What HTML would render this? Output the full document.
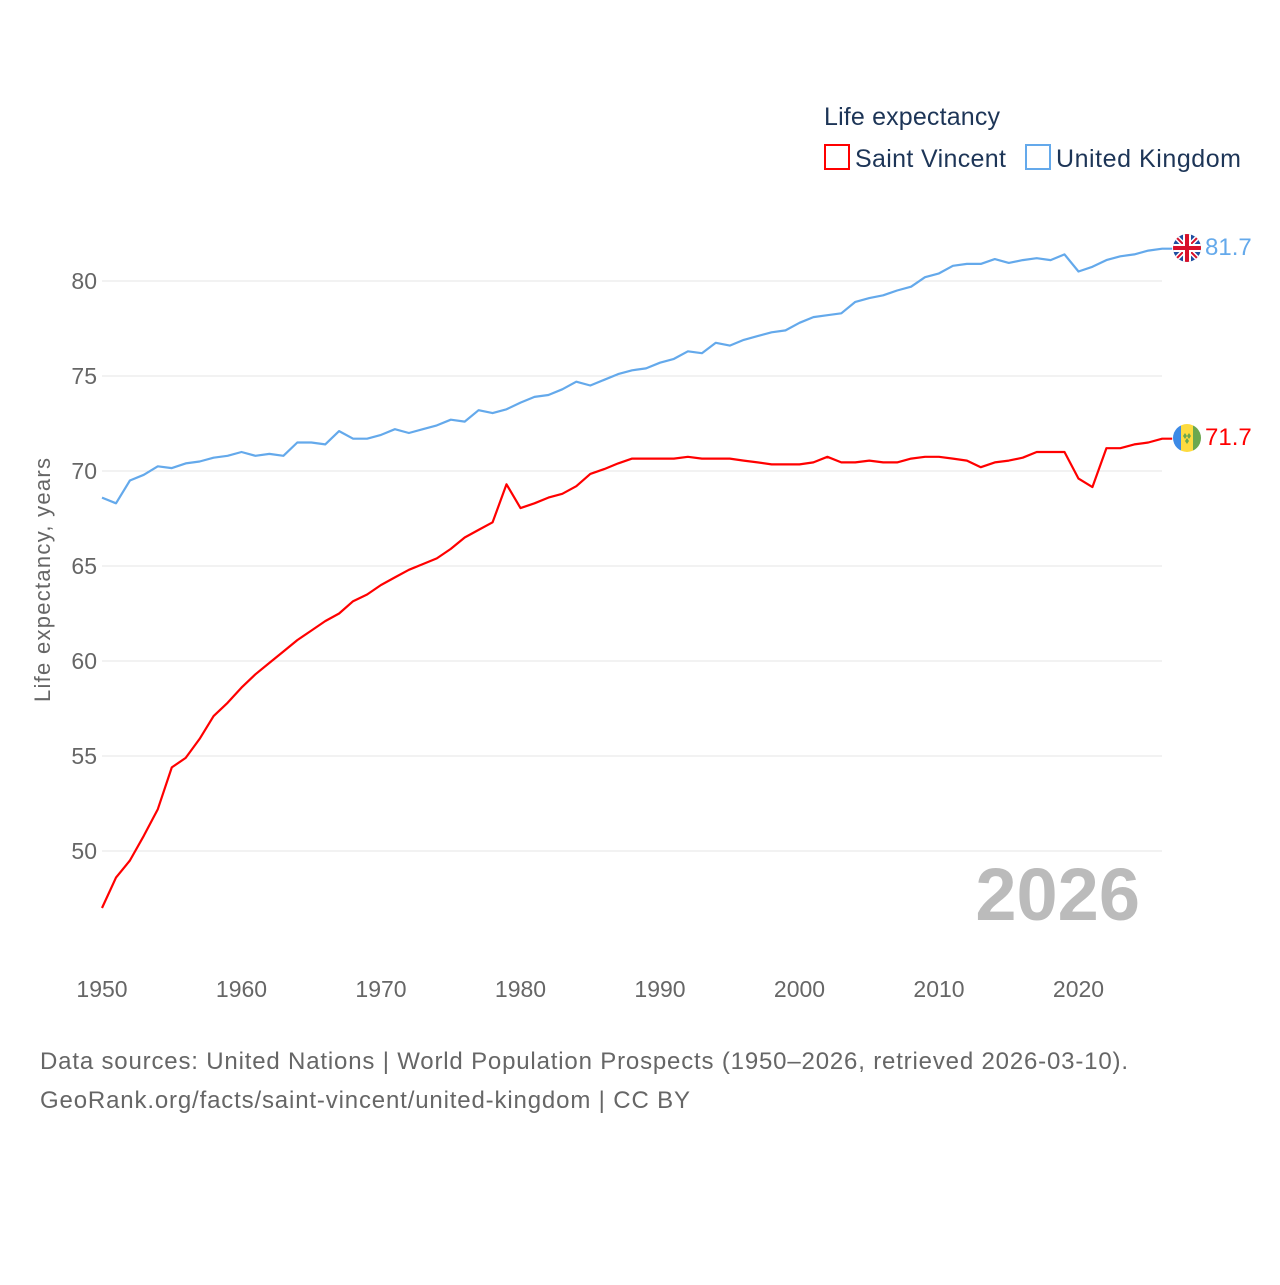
<!DOCTYPE html>
<html><head><meta charset="utf-8"><style>
body{margin:0;background:#fff;width:1280px;height:1280px;overflow:hidden;font-family:"Liberation Sans",sans-serif}
</style></head><body>
<svg id="chart" width="1280" height="1280" viewBox="0 0 1280 1280" font-family="Liberation Sans, sans-serif">
<text x="824" y="125" font-size="25" fill="#1d3557" textLength="176">Life expectancy</text>
<rect x="825" y="145" width="24" height="24" fill="none" stroke="#f00" stroke-width="2"/>
<text x="855" y="167" font-size="25" fill="#1d3557" textLength="151">Saint Vincent</text>
<rect x="1026" y="145" width="24" height="24" fill="none" stroke="#64a9eb" stroke-width="2"/>
<text x="1056" y="167" font-size="25" fill="#1d3557" textLength="185">United Kingdom</text>
<g id="grid"></g>
<g id="xt"></g>
<text transform="translate(50,580) rotate(-90)" text-anchor="middle" font-size="22" fill="#666" textLength="244">Life expectancy, years</text>
<text x="1140" y="920" text-anchor="end" font-size="74" font-weight="bold" fill="#bbb">2026</text>
<g id="lines"></g>
<g>
<clipPath id="cuk"><circle cx="1187" cy="248" r="14"/></clipPath>
<g clip-path="url(#cuk)"><rect x="1173" y="234" width="28" height="28" fill="#1f4ea1"/>
<path d="M1173 234L1201 262M1201 234L1173 262" stroke="#fff" stroke-width="5"/>
<path d="M1173 234L1201 262M1201 234L1173 262" stroke="#d8102a" stroke-width="2"/>
<path d="M1187 234V262M1173 248H1201" stroke="#fff" stroke-width="8"/>
<path d="M1187 234V262M1173 248H1201" stroke="#d8102a" stroke-width="4"/></g></g>
<g>
<clipPath id="csv"><circle cx="1187" cy="438" r="14"/></clipPath>
<g clip-path="url(#csv)"><rect x="1173" y="424" width="8" height="28" fill="#3d8ae6"/><rect x="1181" y="424" width="12" height="28" fill="#fddb3f"/><rect x="1193" y="424" width="8" height="28" fill="#6aa84f"/>
<path d="M1183 436l2-3 2 3-2 3zM1187 436l2-3 2 3-2 3zM1185 441l2-3 2 3-2 3z" fill="#6aa84f"/></g></g>
<text x="1205" y="255" font-size="24" fill="#64a9eb">81.7</text>
<text x="1205" y="445" font-size="24" fill="#f00">71.7</text>
<text x="40" y="1069" font-size="24" fill="#666" textLength="1088">Data sources: United Nations | World Population Prospects (1950–2026, retrieved 2026-03-10).</text>
<text x="40" y="1108" font-size="24" fill="#666" textLength="650">GeoRank.org/facts/saint-vincent/united-kingdom | CC BY</text>
</svg>
<script>
const years=[];for(let y=1950;y<=2026;y++)years.push(y);
const ukValues=[68.6,68.3,69.5,69.8,70.25,70.15,70.4,70.5,70.7,70.8,71.0,70.8,70.9,70.8,71.5,71.5,71.4,72.1,71.7,71.7,71.9,72.2,72.0,72.2,72.4,72.7,72.6,73.2,73.05,73.25,73.6,73.9,74.0,74.3,74.7,74.5,74.8,75.1,75.3,75.4,75.7,75.9,76.3,76.2,76.75,76.6,76.9,77.1,77.3,77.4,77.8,78.1,78.2,78.3,78.9,79.1,79.25,79.5,79.7,80.2,80.4,80.8,80.9,80.9,81.15,80.95,81.1,81.2,81.1,81.4,80.5,80.75,81.1,81.3,81.4,81.6,81.7];
const svValues=[47.0,48.6,49.5,50.8,52.2,54.4,54.9,55.9,57.1,57.8,58.6,59.3,59.9,60.5,61.1,61.6,62.1,62.5,63.15,63.5,64.0,64.4,64.8,65.1,65.4,65.9,66.5,66.9,67.3,69.3,68.05,68.3,68.6,68.8,69.2,69.85,70.1,70.4,70.65,70.65,70.65,70.65,70.75,70.65,70.65,70.65,70.55,70.45,70.35,70.35,70.35,70.45,70.75,70.45,70.45,70.55,70.45,70.45,70.65,70.75,70.75,70.65,70.55,70.2,70.45,70.55,70.7,71.0,71.0,71.0,69.6,69.15,71.2,71.2,71.4,71.5,71.7];
const yTicks=[50,55,60,65,70,75,80];
const xTicks=[1950,1960,1970,1980,1990,2000,2010,2020];
const NS='http://www.w3.org/2000/svg';
const xs=y=>102+(y-1950)*13.95;
const ys=v=>281+(80-v)*19;
const g=document.getElementById('grid'),xt=document.getElementById('xt'),L=document.getElementById('lines');
yTicks.forEach(t=>{
 const l=document.createElementNS(NS,'line');
 
 
 l.setAttribute('x1',102);l.setAttribute('x2',1162);l.setAttribute('y1',ys(t));l.setAttribute('y2',ys(t));l.setAttribute('stroke','#e6e6e6');g.appendChild(l);
 const tx=document.createElementNS(NS,'text');
 
 
 tx.setAttribute('x',97);tx.setAttribute('y',ys(t)+8);tx.setAttribute('text-anchor','end');tx.setAttribute('font-size','23');tx.setAttribute('fill','#666');tx.textContent=t;g.appendChild(tx);
});
xTicks.forEach(t=>{
 const tx=document.createElementNS(NS,'text');
 
 
 tx.setAttribute('x',xs(t));tx.setAttribute('y',997);tx.setAttribute('text-anchor','middle');tx.setAttribute('font-size','23');tx.setAttribute('fill','#666');tx.textContent=t;xt.appendChild(tx);
});
function line(vals,color,name){
 const p=document.createElementNS(NS,'polyline');
 
 
 p.setAttribute('points',vals.map((v,i)=>xs(years[i]).toFixed(1)+','+ys(v).toFixed(1)).join(' ')+' '+(xs(2026)+10)+','+ys(vals[vals.length-1]).toFixed(1));
 p.setAttribute('fill','none');p.setAttribute('stroke',color);p.setAttribute('stroke-width','2.2');p.setAttribute('stroke-linejoin','round');L.appendChild(p);
}
line(ukValues,'#64a9eb','uk-line');
line(svValues,'#f00','saint-vincent-line');
</script>
</body></html>
